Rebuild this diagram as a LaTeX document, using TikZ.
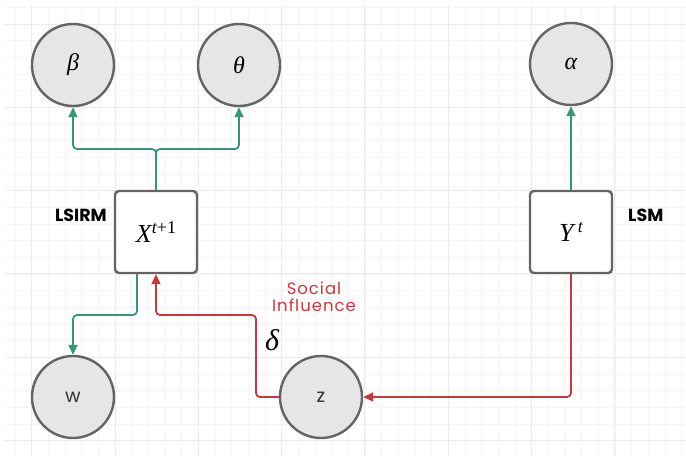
\documentclass[tikz,border=0pt]{standalone}
\usepackage{fontspec}
\usetikzlibrary{arrows.meta}

\newfontfamily\labelfont{Poppins}
\newfontfamily\spacedfont[LetterSpace=6]{Poppins}
\newfontfamily\mathlike{Liberation Serif}

\definecolor{gridminor}{HTML}{F5F5F5}
\definecolor{gridmajor}{HTML}{EBEBEB}
\definecolor{nodeline}{HTML}{646464}
\definecolor{nodefill}{HTML}{E6E6E6}
\definecolor{linkgreen}{HTML}{3A9479}
\definecolor{inflred}{HTML}{C13A3F}
\definecolor{lettergray}{HTML}{333333}

\begin{document}
\begin{tikzpicture}[x=1pt, y=-1pt,
    param/.style={circle, draw=nodeline, fill=nodefill, line width=2.4pt,
        minimum size=82pt, inner sep=0pt,
        font=\mathlike\itshape\fontsize{24}{28}\selectfont},
    obs/.style={rectangle, rounded corners=4pt, draw=nodeline, fill=white,
        line width=2.4pt, minimum size=82pt, inner sep=0pt,
        font=\mathlike\itshape\fontsize{26}{30}\selectfont},
    letter/.style={text=lettergray, font=\labelfont\fontsize{19}{22}\selectfont},
    tag/.style={inner sep=0pt, font=\labelfont\bfseries\fontsize{17.5}{20}\selectfont},
    link/.style={draw=linkgreen, line width=1.8pt, rounded corners=4pt,
        -{Triangle[length=10pt, width=9pt]}},
    infl/.style={draw=inflred, line width=1.8pt, rounded corners=4pt,
        -{Triangle[length=10pt, width=9pt]}}]
    \useasboundingbox (0,0) rectangle (686,456);

    % Background grid (minor every 16.67px, major every 83.3px)
    \foreach \i in {0,...,40} {
        \draw[gridminor, line width=1pt] (15+\i*16.667,5) -- (15+\i*16.667,456);
    }
    \foreach \j in {0,...,26} {
        \draw[gridminor, line width=1pt] (5,7.33+\j*16.667) -- (686,7.33+\j*16.667);
    }
    \foreach \i in {0,...,7} {
        \draw[gridmajor, line width=1pt] (31.67+\i*83.33,5) -- (31.67+\i*83.33,456);
    }
    \foreach \j in {0,...,5} {
        \draw[gridmajor, line width=1pt] (5,24+\j*83.33) -- (686,24+\j*83.33);
    }

    % Parameters
    \node[param] (beta) at (73,65) {β};
    \node[param] (theta) at (239,65) {θ};
    \node[param] (alpha) at (571,64) {α};

    % Networks
    \node[obs] (X) at (156,232) {X\raisebox{9pt}{\fontsize{18}{18}\selectfont t\upshape +1}};
    \node[obs] (Y) at (571,232) {Y\,\raisebox{9pt}{\fontsize{18}{18}\selectfont t}};
    \node[tag, anchor=east] (lsirm) at (107,215) {LSIRM};
    \node[tag, anchor=west] (lsm) at (628,215) {LSM};

    % Latent positions
    \node[param, letter] (w) at (73,397) {w};
    \node[param, letter] (z) at (321,397) {z};

    % Green links
    \coordinate (fork) at (156,149);
    \coordinate (wturn) at (137,315);
    \draw[link] (X.north) -- (fork) -| (beta.south);
    \draw[link] (X.north) -- (fork) -| (theta.south);
    \draw[link] (Y.north) -- (alpha.south);
    \draw[link] ([xshift=-19pt]X.south) -- (wturn) -| (w.north);

    % Social influence (red)
    \coordinate (zturn) at (256,315);
    \draw[infl] (Y.south) |- (z.east);
    \draw[infl] (z.west) -| (zturn) -| (X.south);
    \node[text=inflred, align=center, inner sep=0pt,
        font=\spacedfont\fontsize{16.5}{17.5}\selectfont] (social) at (314,297) {Social\\Influence};
    \node[font=\mathlike\itshape\fontsize{30}{34}\selectfont] (delta) at (272,340) {δ};
\end{tikzpicture}
\end{document}
